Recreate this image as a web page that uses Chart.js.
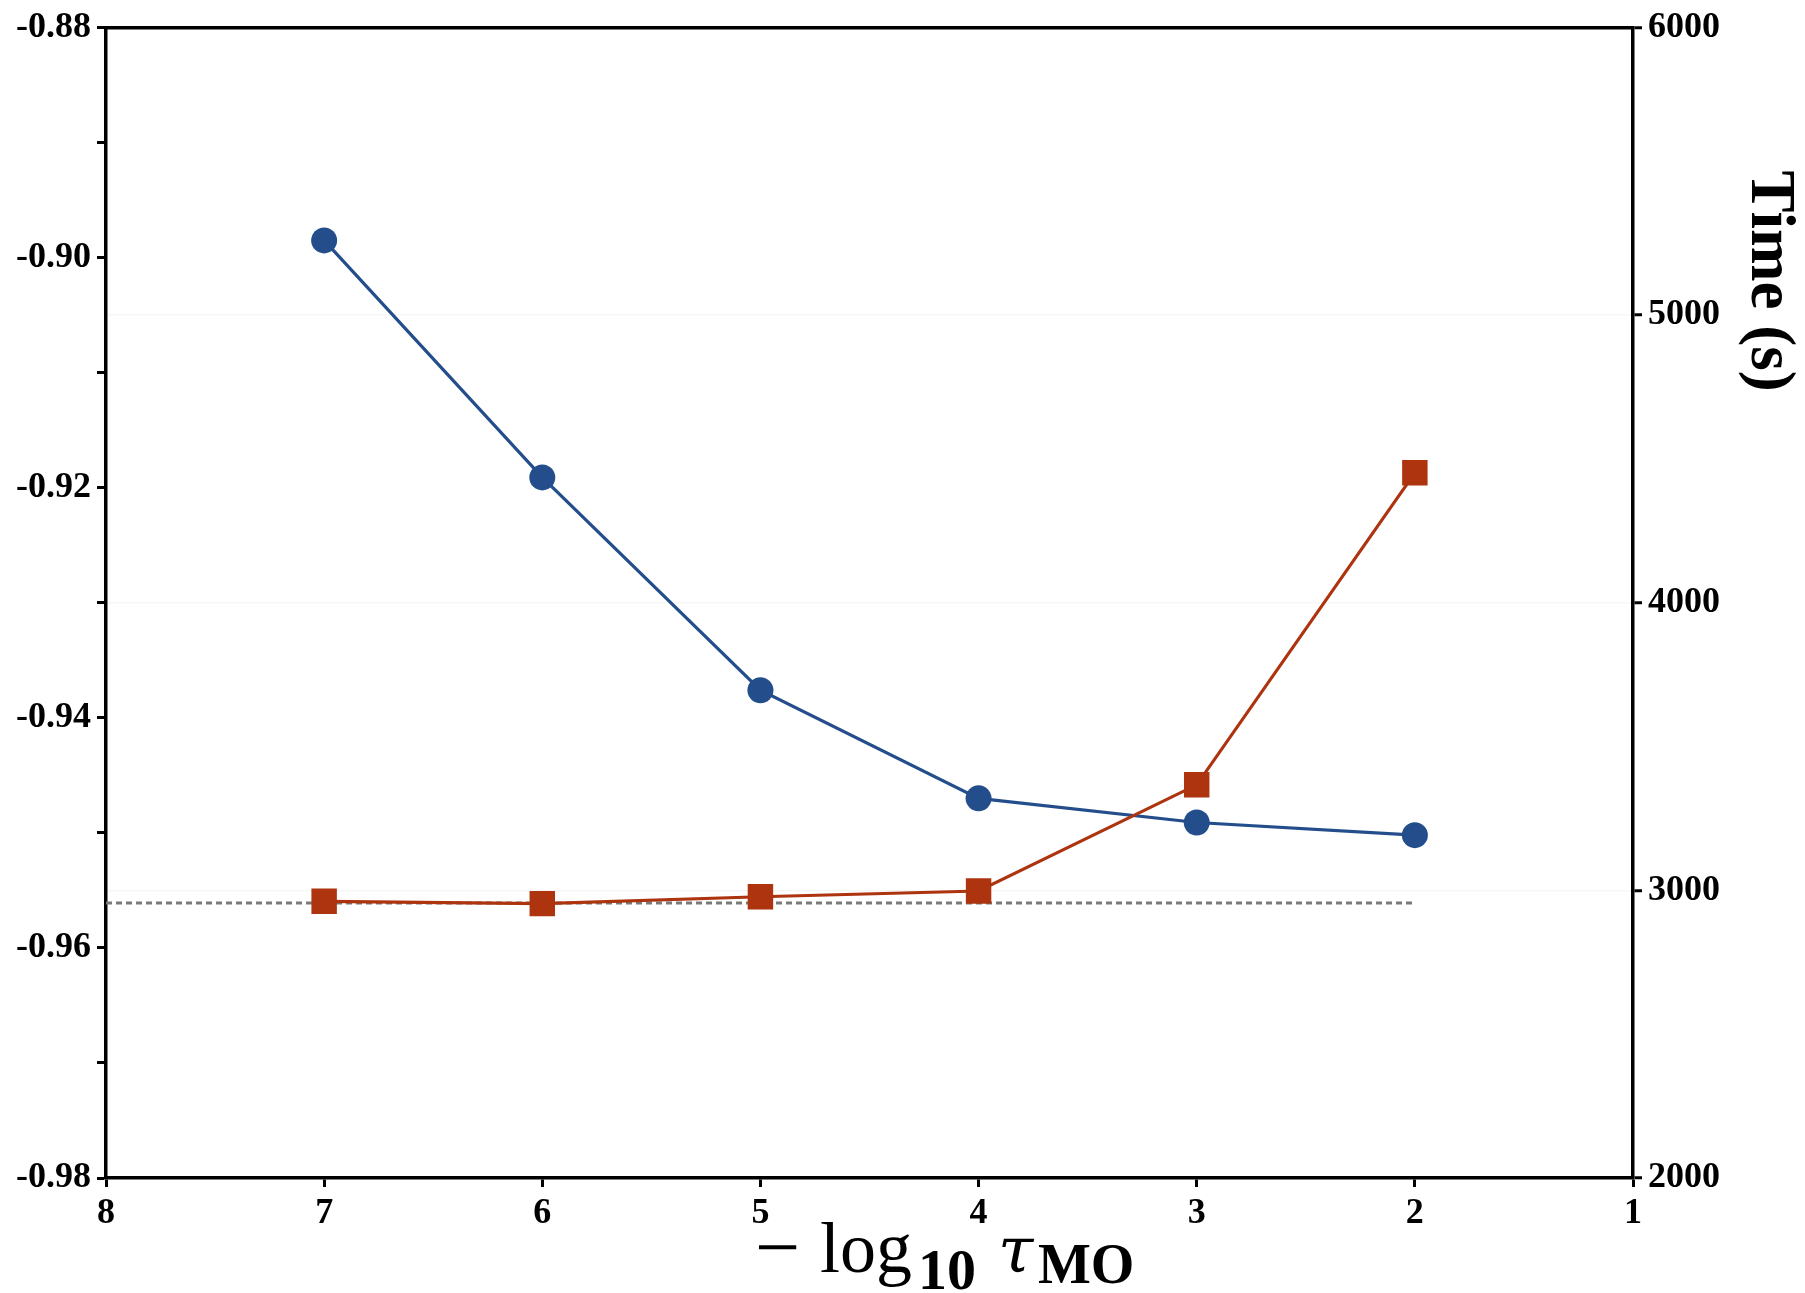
<!DOCTYPE html>
<html>
<head>
<meta charset="utf-8">
<title>Energy and time vs tau</title>
<script src="https://cdn.jsdelivr.net/npm/chart.js@4.4.1/dist/chart.umd.min.js"></script>
<style>
    html, body { margin: 0; padding: 0; background: #fff; }
    #wrap { width: 1805px; height: 1293px; }
</style>
</head>
<body>
<div id="wrap"><canvas id="chart" width="1805" height="1293"></canvas></div>
<script>
// ============================================
// DATA
// ============================================

// -log10(tau_MO)
const tauSteps = [7, 6, 5, 4, 3, 2];
// energy (left axis)
const energyValues = [-0.8985, -0.9191, -0.9376, -0.9470, -0.9491, -0.9502];
// wall time in seconds (right axis)
const timeValues = [2962, 2954, 2978, 2998, 3367, 4452];
// dashed reference level (left axis)
const refSteps = [8, 2];
const refEnergy = [-0.9561, -0.9561];

const energyTicks = [-0.98, -0.96, -0.94, -0.92, -0.90, -0.88];
const timeTicks = [2000, 3000, 4000, 5000, 6000];

const BLUE = '#234e8b';
const RED = '#ad340f';
const TICK_FONT = { family: '"Liberation Serif", "Times New Roman", serif', size: 36, weight: 'bold' };

function toPoints(xs, ys) {
    return xs.map((x, i) => ({ x: x, y: ys[i] }));
}

// fixed axis sizes so the plot area sits where the original one does
function fixWidth(w) {
    return function(scale) { scale.width = w; };
}
function fixHeight(h) {
    return function(scale) { scale.height = h; };
}

// axis titles: rotated "Time (s)" and the math label under the x axis
const axisTitles = {
    id: 'axisTitles',
    afterDraw(chart) {
        const ctx = chart.ctx;
        const area = chart.chartArea;
        ctx.save();
        ctx.fillStyle = '#000';

        // right title, reads top to bottom
        ctx.save();
        ctx.translate(area.right + 119, area.top + 143);
        ctx.rotate(Math.PI / 2);
        ctx.font = 'bold 63px "Liberation Serif", serif';
        ctx.textAlign = 'left';
        ctx.textBaseline = 'alphabetic';
        ctx.fillText('Time (s)', 0, 0);
        ctx.restore();

        // bottom title: − log_10 τ_MO
        const base = area.bottom + 94;
        const serif = '"Liberation Serif", serif';
        const runs = [
            { text: '\u2212', font: '80px ' + serif, x: 755, dy: 2 },
            { text: 'log', font: '72px ' + serif, x: 820, dy: 0 },
            { text: '10', font: 'bold 58px ' + serif, x: 918, dy: 17 },
            { text: '\u03c4', font: 'italic 64px "DejaVu Serif", serif', x: 998, dy: 0 },
            { text: 'MO', font: 'bold 56px ' + serif, x: 1038, dy: 11 }
        ];
        ctx.textAlign = 'left';
        ctx.textBaseline = 'alphabetic';
        runs.forEach(r => {
            ctx.font = r.font;
            ctx.fillText(r.text, r.x, base + r.dy);
        });
        ctx.restore();
    }
};

const ctx = document.getElementById('chart').getContext('2d');
new Chart(ctx, {
    type: 'line',
    data: {
        datasets: [{
            label: 'Reference',
            data: toPoints(refSteps, refEnergy),
            yAxisID: 'y',
            borderColor: '#7a7a7a',
            borderWidth: 3,
            borderDash: [6, 4],
            pointRadius: 0,
            order: 3
        }, {
            label: 'Energy',
            data: toPoints(tauSteps, energyValues),
            yAxisID: 'y',
            borderColor: BLUE,
            backgroundColor: BLUE,
            borderWidth: 3.2,
            pointStyle: 'circle',
            pointRadius: 13,
            pointBorderWidth: 0,
            order: 2
        }, {
            label: 'Time (s)',
            data: toPoints(tauSteps, timeValues),
            yAxisID: 'y1',
            borderColor: RED,
            backgroundColor: RED,
            borderWidth: 3.2,
            pointStyle: 'rect',
            pointRadius: 18,
            pointBorderWidth: 0,
            order: 1
        }]
    },
    options: {
        responsive: false,
        animation: false,
        devicePixelRatio: 1,
        layout: { padding: 0 },
        elements: { line: { tension: 0, fill: false } },
        plugins: {
            legend: { display: false },
            tooltip: { enabled: false }
        },
        scales: {
            x: {
                type: 'linear',
                position: 'bottom',
                min: 1,
                max: 8,
                reverse: true,
                afterFit: fixHeight(115),
                border: { display: true, color: '#000', width: 3.5 },
                grid: { drawOnChartArea: false, tickColor: '#000', tickLength: 9, tickWidth: 3 },
                ticks: {
                    stepSize: 1,
                    autoSkip: false,
                    maxRotation: 0,
                    padding: 5,
                    color: '#000',
                    font: TICK_FONT,
                    callback: v => String(v)
                }
            },
            xTop: {
                type: 'linear',
                position: 'top',
                min: 1,
                max: 8,
                afterFit: fixHeight(23),
                border: { display: true, color: '#000', width: 3.5 },
                grid: { drawOnChartArea: false, drawTicks: false },
                ticks: { display: false }
            },
            y: {
                type: 'linear',
                position: 'left',
                min: energyTicks[0],
                max: energyTicks[energyTicks.length - 1],
                afterFit: fixWidth(106),
                afterBuildTicks: function(scale) {
                    // majors every 0.02 plus unlabeled minors in between
                    const ticks = [];
                    for (let i = 0; i < energyTicks.length; i++) {
                        ticks.push({ value: energyTicks[i] });
                        if (i < energyTicks.length - 1) {
                            ticks.push({ value: (energyTicks[i] + energyTicks[i + 1]) / 2, minor: true });
                        }
                    }
                    scale.ticks = ticks;
                },
                border: { display: true, color: '#000', width: 3.5 },
                grid: { drawOnChartArea: false, tickColor: '#000', tickLength: 9, tickWidth: 3 },
                ticks: {
                    autoSkip: false,
                    padding: 6,
                    color: '#000',
                    font: TICK_FONT,
                    callback: function(v) {
                        const isMajor = energyTicks.some(t => Math.abs(t - v) < 1e-9);
                        return isMajor ? v.toFixed(2) : '';
                    }
                }
            },
            y1: {
                type: 'linear',
                position: 'right',
                min: timeTicks[0],
                max: timeTicks[timeTicks.length - 1],
                afterFit: fixWidth(172),
                afterBuildTicks: function(scale) {
                    scale.ticks = timeTicks.map(v => ({ value: v }));
                },
                border: { display: true, color: '#000', width: 3.5 },
                grid: {
                    drawOnChartArea: true,
                    color: 'rgba(0,0,0,0.035)',
                    lineWidth: 1.5,
                    tickColor: '#000',
                    tickLength: 9,
                    tickWidth: 3
                },
                ticks: {
                    autoSkip: false,
                    padding: 6,
                    color: '#000',
                    font: TICK_FONT,
                    callback: v => String(v)
                }
            }
        }
    },
    plugins: [axisTitles]
});
</script>
</body>
</html>
